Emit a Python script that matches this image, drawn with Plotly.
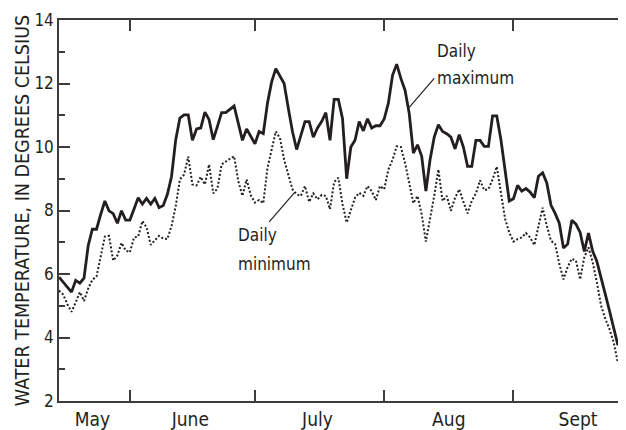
import plotly.graph_objects as go
import pandas as pd

# ---- data ----
start_date = "2000-05-15"

daily_max = [
    5.90, 5.75, 5.58, 5.43, 5.80, 5.71, 5.87, 6.89, 7.41, 7.41,
    7.88, 8.30, 7.99, 7.90, 7.60, 7.99, 7.70, 7.70, 8.05, 8.40,
    8.20, 8.38, 8.20, 8.38, 8.09, 8.16, 8.51, 9.08, 10.23, 10.91,
    11.01, 11.01, 10.21, 10.57, 10.60, 11.10, 10.86, 10.23, 10.65, 11.08,
    11.08, 11.19, 11.29, 10.75, 10.21, 10.57, 10.31, 10.10, 10.49, 10.42,
    11.38, 12.05, 12.47, 12.23, 12.00, 11.22, 10.49, 9.92, 10.33, 10.80,
    10.80, 10.31, 10.60, 10.80, 11.08, 10.21, 11.50, 11.50, 10.90, 9.00,
    10.00, 10.21, 10.80, 10.51, 10.89, 10.60, 10.67, 10.67, 10.88, 11.38,
    12.26, 12.61, 12.16, 11.79, 11.06, 9.81, 10.07, 9.71, 8.61, 9.60,
    10.31, 10.70, 10.49, 10.42, 10.31, 9.94, 10.39, 10.00, 9.39, 9.39,
    10.21, 10.21, 10.02, 10.02, 10.98, 10.98, 10.23, 9.19, 8.30, 8.37,
    8.79, 8.61, 8.69, 8.58, 8.40, 9.08, 9.19, 8.87, 8.17, 7.91,
    7.60, 6.82, 6.94, 7.69, 7.57, 7.31, 6.71, 7.29, 6.72, 6.40,
    5.92, 5.38, 4.86, 4.33, 3.79, 3.79, 3.88,
]

daily_min = [
    5.48, 5.35, 5.05, 4.81, 5.10, 5.43, 5.15, 5.54, 5.82, 5.92,
    6.55, 7.18, 7.20, 6.42, 6.58, 6.98, 6.74, 6.68, 7.15, 7.18,
    7.67, 7.47, 6.92, 7.05, 7.20, 7.12, 7.10, 7.52, 8.14, 8.98,
    9.13, 9.70, 8.82, 8.79, 9.06, 8.82, 9.45, 8.54, 8.69, 9.45,
    9.55, 9.63, 9.71, 8.93, 8.46, 8.98, 8.48, 8.25, 8.33, 8.23,
    9.34, 9.97, 10.49, 10.28, 9.60, 9.13, 8.67, 8.51, 8.46, 8.77,
    8.27, 8.54, 8.35, 8.49, 8.46, 8.04, 8.90, 9.03, 8.20, 7.62,
    8.04, 8.40, 8.56, 8.46, 8.77, 8.61, 8.33, 8.77, 8.67, 9.29,
    9.60, 10.02, 10.00, 9.50, 8.87, 8.23, 8.46, 7.88, 7.02, 7.73,
    8.46, 9.29, 8.30, 8.46, 7.99, 8.40, 8.67, 8.27, 7.91, 8.30,
    8.54, 8.95, 8.64, 8.67, 8.98, 9.38, 8.56, 7.73, 7.31, 7.02,
    7.10, 7.15, 7.29, 7.15, 6.91, 7.52, 8.09, 7.52, 7.05, 6.94,
    6.32, 5.83, 6.22, 6.48, 6.42, 5.83, 6.53, 6.84, 6.37, 5.75,
    5.01, 4.60, 4.28, 3.87, 3.24, 3.53, 3.87,
]

month_boundaries = ["2000-06-01", "2000-07-01", "2000-08-01", "2000-09-01"]
month_label_pos = ["2000-05-23", "2000-06-15 12:00", "2000-07-16",
                   "2000-08-16 12:00", "2000-09-16 12:00"]
month_labels = ["May", "June", "July", "Aug", "Sept"]
x_range = ["2000-05-15", "2000-09-28"]

y_major = [2, 4, 6, 8, 10, 12, 14]
y_minor = [3, 5, 7, 9, 11, 13]
y_range = [2, 14]

# callout texts (one annotation per line) and leader lines
callout_lines = [
    ("2000-08-13 02:00", 13.02, "Daily"),
    ("2000-08-13 02:00", 12.17, "maximum"),
    ("2000-06-26 10:00", 7.22, "Daily"),
    ("2000-06-26 10:00", 6.33, "minimum"),
]
leaders = [
    ("2000-08-13", 12.16, "2000-08-07", 11.25),
    ("2000-07-04 10:00", 7.64, "2000-07-10 14:00", 8.58),
]

dates = pd.date_range(start_date, periods=len(daily_max))

FONT = "DejaVu Sans Condensed, Liberation Sans Narrow, DejaVu Sans, sans-serif"
INK = "#231f20"
AX = "#3c3c3c"

fig = go.Figure()
fig.add_trace(go.Scatter(
    x=dates, y=daily_min, mode="lines", name="Daily minimum",
    line=dict(color=INK, width=2, dash="2px,2px"), yaxis="y2",
))
fig.add_trace(go.Scatter(
    x=dates, y=daily_max, mode="lines", name="Daily maximum",
    line=dict(color=INK, width=2.8),
))

for x0, y0, x1, y1 in leaders:
    fig.add_shape(type="line", xref="x", yref="y", x0=x0, y0=y0, x1=x1, y1=y1,
                  line=dict(color=INK, width=1.2))

for x, y, t in callout_lines:
    fig.add_annotation(x=x, y=y, xref="x", yref="y", text=t, showarrow=False,
                       xanchor="left", yanchor="middle", align="left",
                       font=dict(family=FONT, size=17, color=INK))

# The page body adds an 8 px offset, so the figure is sized 8 px smaller.
fig.update_layout(
    width=618, height=422,
    margin=dict(l=51, r=0, t=11.5, b=27),
    paper_bgcolor="white", plot_bgcolor="white",
    showlegend=False,
    font=dict(family=FONT, size=17, color=INK),
    xaxis=dict(
        type="date", range=x_range,
        tickmode="array", tickvals=month_label_pos, ticktext=month_labels,
        ticks="", ticklen=0, showgrid=False, zeroline=False,
        showline=True, linecolor=AX, linewidth=1.5, mirror="ticks",
        minor=dict(tickmode="array", tickvals=month_boundaries, ticks="inside",
                   ticklen=11, tickwidth=1.5, tickcolor=AX, showgrid=False),
        tickfont=dict(family=FONT, size=19, color=INK),
    ),
    yaxis=dict(
        range=y_range, tickmode="array", tickvals=y_major,
        ticks="inside", ticklen=11, tickwidth=1.5, tickcolor=AX,
        showgrid=False, zeroline=False,
        showline=True, linecolor=AX, linewidth=1.5,
        minor=dict(tickmode="array", tickvals=y_minor, ticks="inside",
                   ticklen=6, tickwidth=1.5, tickcolor=AX, showgrid=False),
        tickfont=dict(family=FONT, size=17, color=INK),
        title=dict(text="WATER TEMPERATURE, IN DEGREES CELSIUS",
                   font=dict(family=FONT, size=19.5, color=INK), standoff=0),
    ),
    yaxis2=dict(
        overlaying="y", side="right", range=y_range,
        tickmode="array", tickvals=y_major, showticklabels=False,
        ticks="inside", ticklen=4, tickwidth=1.5, tickcolor=AX,
        showgrid=False, zeroline=False, showline=False,
    ),
)

fig.write_html("out.html")
